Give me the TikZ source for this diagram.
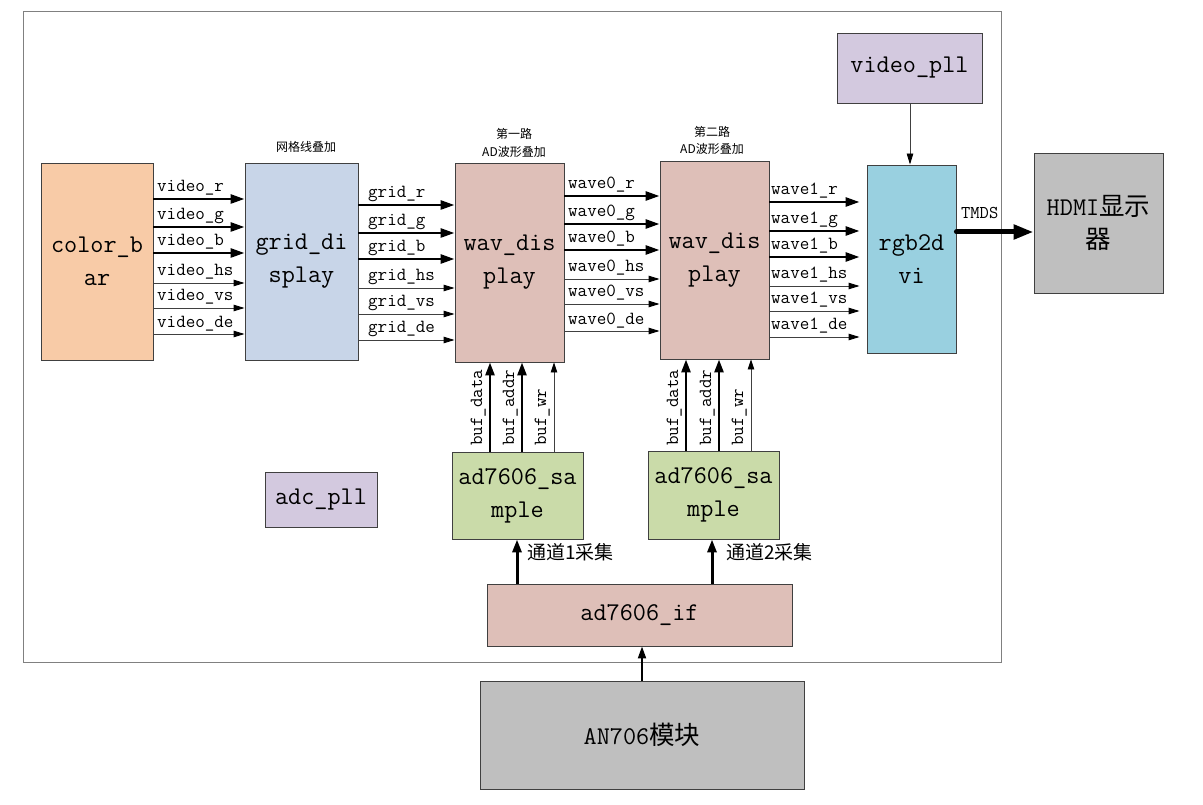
\documentclass[tikz,border=0pt]{standalone}
\usepackage{fontspec}
\newfontfamily\cjk{Noto Sans CJK SC}
\usetikzlibrary{arrows.meta,calc}
\definecolor{cbfill}{HTML}{F8CBA7}
\definecolor{gdfill}{HTML}{C8D5E8}
\definecolor{wvfill}{HTML}{DEBFB8}
\definecolor{rdfill}{HTML}{99D0E0}
\definecolor{pllfill}{HTML}{D3C9DF}
\definecolor{smfill}{HTML}{CADBA9}
\definecolor{gyfill}{HTML}{BFBFBF}
\begin{document}
\begin{tikzpicture}[x=1pt,y=-1pt,
  blk/.style={draw=black!75, line width=0.9pt, inner sep=0pt, align=center,
    font=\ttfamily\fontsize{25.5}{33}\selectfont},
  sig/.style={font=\ttfamily\fontsize{18.5}{20}\selectfont, inner sep=0pt, anchor=base west},
  ttl/.style={font=\cjk\fontsize{12}{17.5}\selectfont, inner sep=0pt, align=center},
  thk/.style={line width=2.6pt, -{Triangle[length=14pt,width=9pt]}},
  thn/.style={line width=0.9pt, draw=black!75, -{Triangle[length=11pt,width=6.5pt,color=black]}},
  vthk/.style={line width=2.6pt, -{Triangle[length=13pt,width=9pt]}},
  vthn/.style={line width=0.9pt, draw=black!75, -{Triangle[length=10pt,width=6.5pt,color=black]}},
  chn/.style={line width=3pt, -{Triangle[length=13pt,width=9pt]}},
  anarr/.style={line width=2pt, -{Triangle[length=12pt,width=8pt]}},
  tmds/.style={line width=5pt, line cap=round, -{Triangle[length=20pt,width=14pt]}},
]
\useasboundingbox (0,0) rectangle (1203,805);
% outer frame
\draw[draw=black!50, line width=1pt] (23,12) rectangle (1001,662);

% blocks
\node[blk, fill=cbfill, minimum width=112pt, minimum height=197pt] (cb) at (97,261.5) {color\_b\\ar};
\node[blk, fill=gdfill, minimum width=113pt, minimum height=197pt] (gd) at (301.5,261.5) {grid\_di\\splay};
\node[blk, fill=wvfill, minimum width=109pt, minimum height=199pt] (w1) at (509.5,262.5) {wav\_dis\\play};
\node[blk, fill=wvfill, minimum width=109pt, minimum height=198pt] (w2) at (714.5,260) {wav\_dis\\play};
\node[blk, fill=rdfill, minimum width=89pt, minimum height=188pt] (rd) at (911.5,259) {rgb2d\\vi};
\node[blk, fill=pllfill, minimum width=145pt, minimum height=70pt] (vp) at (909.5,68) {video\_pll};
\node[blk, fill=gyfill, minimum width=129pt, minimum height=140pt] (hd) at (1098.5,223) {HDMI{\cjk 显示}\\{\cjk 器}};
\node[blk, fill=pllfill, minimum width=112pt, minimum height=55pt] (ap) at (321,499.5) {adc\_pll};
\node[blk, fill=smfill, minimum width=131pt, minimum height=87pt] (s1) at (517.5,495.5) {ad7606\_sa\\mple};
\node[blk, fill=smfill, minimum width=131pt, minimum height=88pt] (s2) at (713.5,495) {ad7606\_sa\\mple};
\node[blk, fill=wvfill, minimum width=305pt, minimum height=62pt] (af) at (639.5,615) {ad7606\_if};
\node[blk, fill=gyfill, minimum width=324pt, minimum height=108pt] (an) at (642,735) {AN706{\cjk 模块}};

% titles
\node[ttl] (t1) at (306,147) {网格线叠加};
\node[ttl] (t2) at (514,143) {第一路\\AD波形叠加};
\node[ttl] (t3) at (712,140.5) {第二路\\AD波形叠加};

% color_bar -> grid_display
\foreach \yy/\lab/\st [count=\i] in {199/video\_r/thk, 227/video\_g/thk, 253/video\_b/thk,
    283/video\_hs/thn, 308/video\_vs/thn, 334/video\_de/thn}{
  \draw[\st] (cb.east |- 0,\yy) -- (gd.west |- 0,\yy);
  \node[sig] (va\i) at (157,\yy-7) {\lab};
}
% grid_display -> wav_display 1
\foreach \yy/\lab/\st [count=\i] in {205/grid\_r/thk, 233/grid\_g/thk, 259/grid\_b/thk,
    288/grid\_hs/thn, 314/grid\_vs/thn, 340/grid\_de/thn}{
  \draw[\st] (gd.east |- 0,\yy) -- (w1.west |- 0,\yy);
  \node[sig] (ga\i) at (368,\yy-7) {\lab};
}
% wav_display 1 -> wav_display 2
\foreach \yy/\lab/\st [count=\i] in {196/wave0\_r/thk, 224/wave0\_g/thk, 250/wave0\_b/thk,
    279/wave0\_hs/thn, 304/wave0\_vs/thn, 331/wave0\_de/thn}{
  \draw[\st] (w1.east |- 0,\yy) -- (w2.west |- 0,\yy);
  \node[sig] (wa\i) at (568,\yy-7) {\lab};
}
% wav_display 2 -> rgb2dvi
\foreach \yy/\lab/\st [count=\i] in {202/wave1\_r/thk, 231/wave1\_g/thk, 257/wave1\_b/thk,
    286/wave1\_hs/thn, 311/wave1\_vs/thn, 337/wave1\_de/thn}{
  \draw[\st] (w2.east |- 0,\yy) -- ($(rd.west |- 0,\yy)+(-7,0)$);
  \node[sig] (wb\i) at (771,\yy-7) {\lab};
}

% buffers sample -> wav_display
\foreach \xx/\lab/\st [count=\i] in {490/buf\_data/vthk, 522/buf\_addr/vthk, 554/buf\_wr/vthn}{
  \draw[\st] (s1.north -| \xx,0) -- (w1.south -| \xx,0);
  \node[sig, rotate=90] (ba\i) at (\xx-8,446) {\lab};
}
\foreach \xx/\lab/\st [count=\i] in {686/buf\_data/vthk, 719/buf\_addr/vthk, 751/buf\_wr/vthn}{
  \draw[\st] (s2.north -| \xx,0) -- (w2.south -| \xx,0);
  \node[sig, rotate=90] (bb\i) at (\xx-8,446) {\lab};
}

% channels
\draw[chn] (af.north -| 517,0) -- (s1.south -| 517,0);
\node[font=\cjk\fontsize{19}{20}\selectfont, inner sep=0pt, anchor=west] (c1) at (527,552) {通道1采集};
\draw[chn] (af.north -| 712,0) -- (s2.south -| 712,0);
\node[font=\cjk\fontsize{19}{20}\selectfont, inner sep=0pt, anchor=west] (c2) at (726,552) {通道2采集};

% AN706 -> ad7606_if
\draw[anarr] (an.north) -- (an.north |- af.south);

% video_pll -> rgb2dvi
\draw[thn] (vp.south -| 910,0) -- (rd.north -| 910,0);

% TMDS
\draw[tmds] (rd.east |- 0,232) -- (hd.west |- 0,232);
\node[font=\ttfamily\fontsize{18}{20}\selectfont, inner sep=0pt, anchor=base west] (tm) at (961,219) {TMDS};
\end{tikzpicture}
\end{document}
